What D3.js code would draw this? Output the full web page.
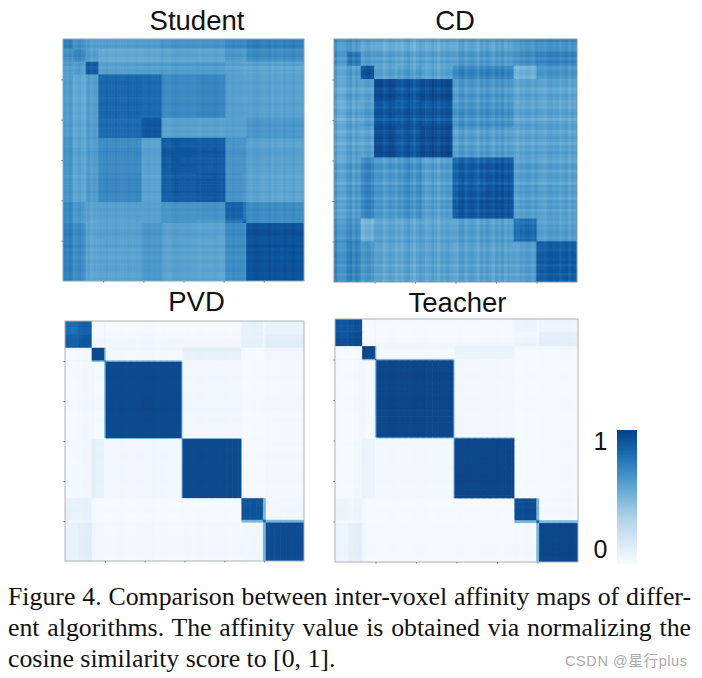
<!DOCTYPE html>
<html><head><meta charset="utf-8">
<script src="https://cdn.jsdelivr.net/npm/d3@7"></script>
<style>html,body{margin:0;padding:0;background:#fff;overflow:hidden}svg{display:block}</style>
</head><body><svg id="c" width="702" height="678"></svg>
<script>
// ---------- data: voxel-index block edges, symmetric block affinities (upper triangle), per-bin stripe offsets
const voxelCount = 1200;
const tickValues = [200, 400, 600, 800, 1000];
const titles = ["Student", "CD", "PVD", "Teacher"];
const colorbarLabels = ["1", "0"];
const captionLines = [
  "Figure 4. Comparison between inter-voxel affinity maps of differ-",
  "ent algorithms. The affinity value is obtained via normalizing the",
  "cosine similarity score to [0, 1]."
];
const watermark = "CSDN @星行plus";

const studentEdges = [0, 50, 113, 176, 391, 490, 664, 809, 896, 913, 1200];
const studentMatrix = [
  [.71, .64, .60, .60, .60, .64, .64, .69, .68, .72],
  [.68, .60, .55, .55, .57, .57, .62, .60, .67],
  [.90, .61, .61, .62, .63, .59, .57, .58],
  [.85, .83, .70, .72, .60, .59, .59],
  [.90, .59, .59, .59, .59, .63],
  [.90, .89, .65, .66, .59],
  [.91, .66, .64, .58],
  [.85, .78, .68],
  [.88, .68],
  [.92]
];
const studentStripes = [
  .03,.01,.03,.0,.02,.04,.01,-.01,.02,-.02,.01,.0,.0,.0,.01,.0,
  .0,.01,.0,-.01,.0,.01,.0,.0,.01,.0,.0,.01,.02,.0,.01,.0,
  .02,.0,-.01,-.01,.01,.02,.01,.0,.0,.01,.0,.0,.0,-.01,.01,.0,
  .0,.0,.01,.0,-.01,.0,.01,.0,.02,.0,.01,.0,.0,.01,.0,.02,
  .03,.01,.0,.0,.03,-.01,.02,.0,-.01,.02,.0,.01,.02,.0,.0,.01
];

const cdEdges = [0, 66, 132, 198, 313, 432, 585, 761, 887, 1000, 1200];
const cdMatrix = [
  [.65, .63, .58, .57, .57, .57, .60, .60, .65, .68],
  [.73, .58, .57, .57, .57, .60, .60, .65, .70],
  [.90, .57, .60, .57, .70, .71, .50, .63],
  [.94, .90, .94, .62, .62, .57, .57],
  [.90, .90, .66, .66, .58, .58],
  [.95, .60, .60, .57, .58],
  [.87, .90, .60, .59],
  [.92, .60, .59],
  [.81, .60],
  [.88]
];
const cdStripes = [
  .05,-.02,-.03,-.02,.04,.06,-.01,.05,.0,-.01,.03,.04,.0,.02,.02,.03,
  -.03,.0,.04,.02,-.02,.0,-.03,.02,.04,.0,-.04,.01,.04,.02,-.02,.01,
  .04,.01,-.03,.03,.0,.04,.01,-.02,-.03,.03,.04,-.03,.02,.03,.0,-.04,
  .03,.0,.04,.01,-.03,.03,.0,.04,-.02,.02,.0,.0,-.02,.02,.0,.03,
  .02,-.01,.04,.0,.0,-.02,.02,.03,.0,.03,-.02,.01,.03,-.02,.02,.0
];

const groundEdges = [0, 66, 134, 197, 204, 585, 590, 886, 994, 1008, 1200];
const pvdMatrix = [
  [.82, .86, .01, .06, .01, .01, .01, .08, .03, .07],
  [.88, .01, .06, .01, .01, .01, .07, .03, .10],
  [.97, .50, .02, .02, .08, .005, .01, .03],
  [.85, .50, .10, .02, .01, .01, .01],
  [.97, .50, .03, .01, .01, .02],
  [.60, .50, .03, .01, .02],
  [.97, .01, .01, .02],
  [.93, .50, .03],
  [.85, .50],
  [.96]
];
const pvdStripes = [
  .005,.0,.01,.02,.02,.0,.0,.0,.0,.005,
  .0,.0,.005,.01,.01,.0,.005,.0,.0,.0,
  .005,.0,.005,.0,.005,.005,.005,.0,.005,.005,
  .0,.005,.0,.005,.0,.0,.005,.005,.005,.0
];
const teacherMatrix = [
  [.92, .93, .01, .03, .01, .01, .01, .06, .02, .05],
  [.95, .005, .03, .01, .01, .01, .04, .02, .09],
  [.98, .50, .015, .015, .06, .005, .01, .02],
  [.85, .50, .08, .02, .01, .01, .01],
  [.985, .50, .025, .01, .01, .015],
  [.60, .50, .02, .01, .015],
  [.985, .01, .01, .015],
  [.96, .50, .02],
  [.85, .50],
  [.985]
];
const teacherStripes = [
  .005,.0,.0,.015,.02,.0,.0,.0,.0,.005,
  .0,.0,.0,.005,.005,.0,.0,.0,.0,.0,
  .005,.0,.0,.0,.005,.005,.005,.0,.005,.005,
  .0,.005,.0,.0,.0,.0,.0,.005,.005,.0
];

// ---------- layout (separate from the data)
const panels = [
  {title:0, edges:studentEdges, matrix:studentMatrix, stripes:studentStripes, box:[63,304,39,281], frame:"#8aa6bf", tx:197, ty:30},
  {title:1, edges:cdEdges, matrix:cdMatrix, stripes:cdStripes, box:[334,577,39,282], frame:"#8f9498", tx:455, ty:30},
  {title:2, edges:groundEdges, matrix:pvdMatrix, stripes:pvdStripes, box:[65,304,321,561], frame:"#adb1b6", tx:196.5, ty:311},
  {title:3, edges:groundEdges, matrix:teacherMatrix, stripes:teacherStripes, box:[335,578,319,562], frame:"#adb1b6", tx:457.5, ty:312}
];

const svg = d3.select("#c");
const defs = svg.append("defs");
defs.append("filter").attr("id","soft").attr("x","-2%").attr("y","-2%").attr("width","104%").attr("height","104%")
  .append("feGaussianBlur").attr("stdDeviation",0.45);

const color = d3.scaleSequential(d3.interpolateBlues).domain([0,1.08]);
const SANS = "'Liberation Sans',Arial,sans-serif";
const SERIF = "'Liberation Serif','Times New Roman',serif";

panels.forEach((p,pi)=>{
  const [x0,x1,y0,y1] = p.box;
  const x = d3.scaleLinear().domain([0,voxelCount]).range([x0,x1]);
  const y = d3.scaleLinear().domain([0,voxelCount]).range([y0,y1]);
  const bin = voxelCount/p.stripes.length;
  const cuts = Array.from(new Set([...p.edges, ...p.stripes.map((_,i)=>i*bin)])).sort(d3.ascending);
  const spans = d3.pairs(cuts).map(([a,b])=>{
    const m=(a+b)/2;
    return {a,b,seg:d3.bisectRight(p.edges,m)-1,st:p.stripes[Math.floor(m/bin)]};
  });
  const cells = d3.cross(spans,spans).map(([r,c])=>{
    const lo=Math.min(r.seg,c.seg), hi=Math.max(r.seg,c.seg);
    return {r,c,v:Math.max(0,Math.min(1.04,p.matrix[lo][hi-lo]+r.st+c.st))};
  });
  defs.append("clipPath").attr("id","clip"+pi).append("rect")
    .attr("x",x0).attr("y",y0).attr("width",x1-x0).attr("height",y1-y0);
  const g = svg.append("g").attr("clip-path",`url(#clip${pi})`).append("g").attr("filter","url(#soft)");
  g.selectAll("rect").data(cells).join("rect")
    .attr("x",d=>x(d.c.a)).attr("y",d=>y(d.r.a))
    .attr("width",d=>x(d.c.b)-x(d.c.a)+0.6).attr("height",d=>y(d.r.b)-y(d.r.a)+0.6)
    .attr("fill",d=>color(d.v));
  svg.append("rect").attr("x",x0).attr("y",y0).attr("width",x1-x0).attr("height",y1-y0)
    .attr("fill","none").attr("stroke",p.frame).attr("stroke-width",1);
  const ax = svg.append("g").attr("transform",`translate(0,${y1})`)
    .call(d3.axisBottom(x).tickValues(tickValues).tickSize(1.5).tickFormat(""));
  const ay = svg.append("g").attr("transform",`translate(${x0},0)`)
    .call(d3.axisLeft(y).tickValues(tickValues).tickSize(1.5).tickFormat(""));
  [ax,ay].forEach(a=>{a.select(".domain").remove();a.selectAll("line").attr("stroke","#777");});
  svg.append("text").attr("x",p.tx).attr("y",p.ty).attr("text-anchor","middle")
    .attr("font-family",SANS).attr("font-size",27.5).attr("fill","#111").text(titles[p.title]);
});

// colorbar
const barY = d3.scaleLinear().domain([0,1]).range([563,431]);
const barSteps = d3.range(0,1.0001,0.01);
svg.append("g").selectAll("rect").data(barSteps).join("rect")
  .attr("x",617).attr("width",20)
  .attr("y",d=>barY(d)-1).attr("height",2.4)
  .attr("fill",d=>color(d));
svg.selectAll("text.cb").data(colorbarLabels).join("text").attr("class","cb")
  .attr("x",600.5).attr("y",(d,i)=>[450,558][i]).attr("text-anchor","middle")
  .attr("font-family",SANS).attr("font-size",25).attr("fill","#111").text(d=>d);

// caption
const capY=[605,636,667], capW=[683,683,null];
captionLines.forEach((line,i)=>{
  const t=svg.append("text").attr("x",8).attr("y",capY[i])
    .attr("font-family",SERIF).attr("font-size",25.8).attr("fill","#111").text(line);
  if(capW[i]){
    const gaps=line.split(" ").length-1;
    const w=t.node().getComputedTextLength();
    t.attr("word-spacing",(capW[i]-w)/gaps);
  }
});
svg.append("text").attr("x",565).attr("y",666)
  .attr("font-family",SANS+",'Noto Sans CJK SC'").attr("font-size",14.5).attr("letter-spacing",0.6)
  .attr("fill","#a9a9a9").text(watermark);
</script></body></html>
